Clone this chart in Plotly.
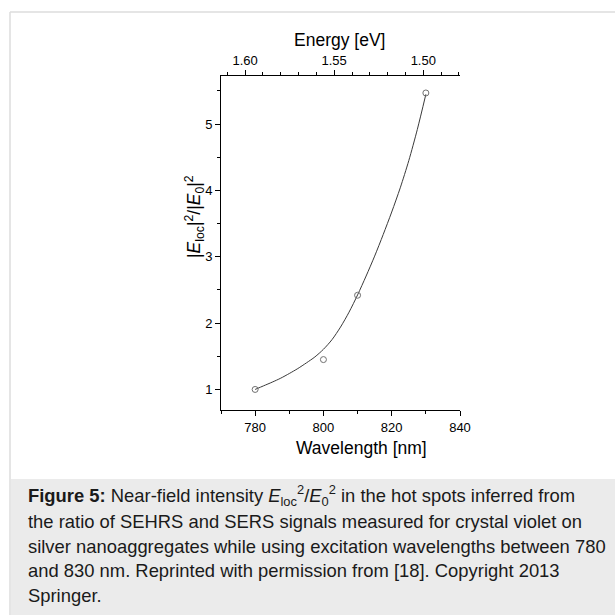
import plotly.graph_objects as go

# ---- data ----
wavelength_nm = [780, 800, 810, 830]
enhancement = [1.00, 1.45, 2.42, 5.47]

# fitted curve
curve_wavelength = [780, 782.5, 785, 787.5, 790, 792.5, 795, 797.5, 800, 802.5, 805,
                    807.5, 810, 812.5, 815, 817.5, 820, 822.5, 825, 827.5, 830]
curve_enhancement = [1.00, 1.055, 1.11, 1.17, 1.24, 1.315, 1.40, 1.49, 1.605, 1.75, 1.94,
                     2.165, 2.425, 2.71, 3.01, 3.335, 3.675, 4.04, 4.45, 4.92, 5.45]

bottom_ticks = [780, 800, 820, 840]
left_ticks = [1, 2, 3, 4, 5]
energy_ticks = [1.60, 1.55, 1.50]
energy_ticktext = ["1.60", "1.55", "1.50"]

caption_lines = [
    "<b>Figure 5:</b> Near-field intensity <i>E</i><sub>loc</sub><sup>2</sup>/<i>E</i><sub>0</sub><sup>2</sup> in the hot spots inferred from",
    "the ratio of SEHRS and SERS signals measured for crystal violet on",
    "silver nanoaggregates while using excitation wavelengths between 780",
    "and 830 nm. Reprinted with permission from [18]. Copyright 2013",
    "Springer.",
]

FONT = "Liberation Sans, Arial, Helvetica, sans-serif"
W, H = 615, 615
L, R, T, B = 221, 460, 76, 410  # plot area in pixels
PW, PH = R - L, B - T


def px(xp):
    return (xp - L) / PW


def py(yp):
    return (B - yp) / PH


fig = go.Figure()

fig.add_trace(go.Scatter(
    x=curve_wavelength, y=curve_enhancement, mode="lines",
    line=dict(color="#3a3a3a", width=1, shape="spline", smoothing=0.8),
    hoverinfo="skip", showlegend=False))

fig.add_trace(go.Scatter(
    x=wavelength_nm, y=enhancement, mode="markers",
    marker=dict(symbol="circle-open", size=6, color="#707070", line=dict(width=1)),
    showlegend=False))

fig.add_trace(go.Scatter(
    x=[energy_ticks[0], energy_ticks[-1]], y=[None, None], xaxis="x2",
    mode="markers", marker=dict(opacity=0), hoverinfo="skip", showlegend=False))

axis_common = dict(
    showline=True, linecolor="black", linewidth=1, ticks="outside",
    tickcolor="black", tickwidth=1, ticklen=5, showgrid=False, zeroline=False,
    tickfont=dict(family=FONT, size=13, color="black"),
)

fig.update_layout(
    width=W, height=H,
    margin=dict(l=L, r=W - R, t=T, b=H - B, pad=0),
    paper_bgcolor="white", plot_bgcolor="white",
    showlegend=False,
    xaxis=dict(range=[770, 840], tickvals=bottom_ticks,
               minor=dict(dtick=10, tick0=770, ticks="outside", ticklen=3, tickcolor="black"),
               **axis_common),
    yaxis=dict(range=[0.69, 5.726], tickvals=left_ticks,
               minor=dict(dtick=0.5, tick0=0.5, ticks="outside", ticklen=3, tickcolor="black"),
               **axis_common),
    xaxis2=dict(overlaying="x", side="top", anchor="y",
                range=[1.6135, 1.4794], tickvals=energy_ticks, ticktext=energy_ticktext,
                minor=dict(dtick=0.01, tick0=1.40, ticks="outside", ticklen=3, tickcolor="black"),
                **axis_common),
)

# frame and caption box
shapes = [
    dict(type="rect", xref="paper", yref="paper",
         x0=px(11), x1=px(620), y0=py(620), y1=py(479),
         fillcolor="#ebebeb", line=dict(width=0), layer="below"),
    dict(type="line", xref="paper", yref="paper",
         x0=px(10), x1=px(620), y0=py(12), y1=py(12),
         line=dict(color="#dcdcdc", width=1.5), layer="below"),
    dict(type="line", xref="paper", yref="paper",
         x0=px(10), x1=px(10), y0=py(12), y1=py(620),
         line=dict(color="#dcdcdc", width=1.5), layer="below"),
]
fig.update_layout(shapes=shapes)

annotations = [
    dict(text="Wavelength [nm]", x=px(361), y=py(448), xref="paper", yref="paper",
         xanchor="center", yanchor="middle", showarrow=False,
         font=dict(family=FONT, size=17.5, color="black")),
    dict(text="Energy [eV]", x=px(339), y=py(40), xref="paper", yref="paper",
         xanchor="center", yanchor="middle", showarrow=False,
         font=dict(family=FONT, size=17.5, color="black")),
    dict(text="|<i>E</i><sub>loc</sub>|<sup>2</sup>/|<i>E</i><sub>0</sub>|<sup>2</sup>",
         x=px(194), y=py(217), xref="paper", yref="paper", textangle=-90,
         xanchor="center", yanchor="middle", showarrow=False,
         font=dict(family=FONT, size=17.5, color="black")),
]
caption_y = [495, 521.5, 546, 570.5, 595]
for line, yc in zip(caption_lines, caption_y):
    annotations.append(dict(
        text=line, x=px(26), y=py(yc), xref="paper", yref="paper",
        xanchor="left", yanchor="middle", showarrow=False, align="left",
        font=dict(family=FONT, size=18.4, color="#1a1a1a")))
fig.update_layout(annotations=annotations)

fig.write_html(
    "out.html",
    config={"displayModeBar": False},
    post_script="document.body.style.margin='0';document.body.style.overflow='hidden';",
)
